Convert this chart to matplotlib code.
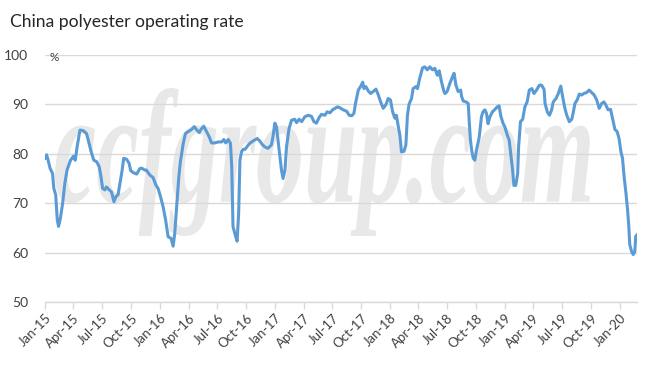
import matplotlib
matplotlib.use("Agg")
import matplotlib.pyplot as plt
import matplotlib.dates as mdates
from matplotlib.textpath import TextPath
from matplotlib.patches import PathPatch
from matplotlib.font_manager import FontProperties
from matplotlib.transforms import Affine2D
import pandas as pd

title = "China polyester operating rate"
unit_label = "%"
watermark = "ccfgroup.com"

dates = [
    "2015-01-01", "2015-01-06", "2015-01-11", "2015-01-17", "2015-01-25", "2015-01-29", "2015-02-04",
    "2015-02-09", "2015-02-13", "2015-02-19", "2015-02-26", "2015-03-05", "2015-03-12", "2015-03-23",
    "2015-04-01", "2015-04-07", "2015-04-13", "2015-04-22", "2015-05-02", "2015-05-13", "2015-05-21",
    "2015-05-29", "2015-06-05", "2015-06-14", "2015-06-22", "2015-06-27", "2015-07-03", "2015-07-10",
    "2015-07-15", "2015-07-24", "2015-07-31", "2015-08-08", "2015-08-14", "2015-08-21", "2015-08-27",
    "2015-09-03", "2015-09-08", "2015-09-17", "2015-09-25", "2015-09-30", "2015-10-08", "2015-10-19",
    "2015-10-29", "2015-11-04", "2015-11-09", "2015-11-14", "2015-11-19", "2015-11-30", "2015-12-10",
    "2015-12-19", "2015-12-26", "2016-01-03", "2016-01-11", "2016-01-19", "2016-01-27", "2016-02-05",
    "2016-02-12", "2016-02-17", "2016-02-23", "2016-03-01", "2016-03-06", "2016-03-15", "2016-03-22",
    "2016-03-31", "2016-04-10", "2016-04-19", "2016-04-26", "2016-05-05", "2016-05-10", "2016-05-19",
    "2016-05-28", "2016-06-05", "2016-06-13", "2016-06-23", "2016-07-04", "2016-07-15", "2016-07-22",
    "2016-07-28", "2016-08-05", "2016-08-12", "2016-08-16", "2016-08-20", "2016-08-27", "2016-09-02",
    "2016-09-07", "2016-09-11", "2016-09-16", "2016-09-21", "2016-09-27", "2016-10-02", "2016-10-10",
    "2016-10-18", "2016-10-28", "2016-11-05", "2016-11-13", "2016-11-22", "2016-11-29", "2016-12-09",
    "2016-12-20", "2016-12-25", "2016-12-31", "2017-01-05", "2017-01-10", "2017-01-16", "2017-01-21",
    "2017-01-26", "2017-02-01", "2017-02-06", "2017-02-14", "2017-02-22", "2017-03-04", "2017-03-10",
    "2017-03-18", "2017-03-26", "2017-04-05", "2017-04-16", "2017-04-26", "2017-05-04", "2017-05-12",
    "2017-05-21", "2017-05-28", "2017-06-08", "2017-06-15", "2017-06-24", "2017-07-02", "2017-07-10",
    "2017-07-18", "2017-07-26", "2017-08-05", "2017-08-16", "2017-08-24", "2017-09-01", "2017-09-08",
    "2017-09-14", "2017-09-22", "2017-09-29", "2017-10-06", "2017-10-10", "2017-10-16", "2017-10-24",
    "2017-10-31", "2017-11-08", "2017-11-17", "2017-11-24", "2017-12-02", "2017-12-10", "2017-12-19",
    "2017-12-26", "2018-01-02", "2018-01-09", "2018-01-16", "2018-01-21", "2018-01-27", "2018-02-01",
    "2018-02-06", "2018-02-14", "2018-02-20", "2018-02-25", "2018-03-02", "2018-03-10", "2018-03-15",
    "2018-03-24", "2018-03-29", "2018-04-05", "2018-04-14", "2018-04-21", "2018-04-29", "2018-05-07",
    "2018-05-16", "2018-05-23", "2018-05-31", "2018-06-06", "2018-06-13", "2018-06-21", "2018-06-24",
    "2018-07-01", "2018-07-10", "2018-07-18", "2018-07-23", "2018-07-29", "2018-08-05", "2018-08-13",
    "2018-08-16", "2018-08-21", "2018-08-30", "2018-09-06", "2018-09-09", "2018-09-13", "2018-09-17",
    "2018-09-22", "2018-09-27", "2018-10-02", "2018-10-11", "2018-10-18", "2018-10-23", "2018-10-29",
    "2018-11-03", "2018-11-08", "2018-11-14", "2018-11-22", "2018-11-30", "2018-12-07", "2018-12-13",
    "2018-12-19", "2018-12-26", "2018-12-31", "2019-01-08", "2019-01-14", "2019-01-19", "2019-01-25",
    "2019-01-29", "2019-02-04", "2019-02-10", "2019-02-13", "2019-02-19", "2019-02-26", "2019-03-05",
    "2019-03-12", "2019-03-19", "2019-03-27", "2019-04-03", "2019-04-11", "2019-04-20", "2019-04-27",
    "2019-05-05", "2019-05-08", "2019-05-15", "2019-05-22", "2019-05-29", "2019-06-03", "2019-06-12",
    "2019-06-19", "2019-06-27", "2019-07-03", "2019-07-10", "2019-07-16", "2019-07-24", "2019-08-01",
    "2019-08-06", "2019-08-11", "2019-08-18", "2019-08-25", "2019-09-01", "2019-09-08", "2019-09-17",
    "2019-09-25", "2019-10-03", "2019-10-11", "2019-10-19", "2019-10-27", "2019-11-04", "2019-11-11",
    "2019-11-17", "2019-11-24", "2019-12-02", "2019-12-08", "2019-12-16", "2019-12-23", "2019-12-29",
    "2020-01-04", "2020-01-09", "2020-01-14", "2020-01-20", "2020-01-25", "2020-01-29", "2020-02-01",
    "2020-02-07", "2020-02-12", "2020-02-17", "2020-02-20", "2020-02-24",
]

rates = [
    79.1, 79.8, 78.7, 77.1, 76.0, 73.0, 71.7,
    66.6, 65.3, 67.0, 70.0, 74.0, 76.7, 78.7,
    79.5, 78.7, 81.4, 84.8, 84.7, 84.1, 82.1,
    80.1, 78.7, 78.4, 77.4, 75.7, 73.0, 72.7,
    73.3, 72.7, 72.3, 70.3, 71.3, 71.7, 74.0,
    76.7, 79.1, 78.9, 78.1, 76.6, 76.2, 75.9,
    77.0, 77.1, 76.9, 76.7, 76.7, 75.7, 75.2,
    73.7, 73.0, 71.3, 69.3, 66.6, 63.2, 62.9,
    61.3, 63.9, 69.3, 75.4, 78.4, 82.1, 84.1,
    84.5, 84.9, 85.5, 84.9, 84.3, 84.9, 85.6,
    84.5, 83.5, 82.2, 82.2, 82.4, 82.4, 82.9,
    82.2, 82.9, 82.1, 77.4, 65.3, 63.6, 62.3,
    68.0, 78.7, 80.4, 80.9, 80.9, 81.3, 82.0,
    82.4, 82.8, 83.1, 82.6, 81.8, 81.4, 81.1,
    81.8, 83.5, 86.2, 85.5, 82.8, 79.4, 76.7,
    75.0, 76.7, 81.4, 85.1, 86.8, 87.0, 86.3,
    87.0, 86.5, 87.5, 87.8, 87.6, 86.5, 86.2,
    87.4, 88.0, 87.8, 88.5, 88.3, 88.9, 89.2,
    89.5, 89.3, 88.9, 88.6, 87.8, 87.7, 88.2,
    90.5, 92.9, 93.6, 94.5, 93.2, 93.6, 92.7,
    92.2, 92.6, 93.1, 92.0, 90.5, 89.2, 90.0,
    91.2, 90.9, 88.5, 87.2, 87.8, 85.5, 83.8,
    80.4, 80.5, 81.8, 87.8, 90.0, 91.2, 93.2,
    93.6, 93.2, 95.3, 97.4, 97.6, 97.0, 97.6,
    97.0, 97.3, 95.9, 96.8, 94.6, 92.6, 92.2,
    92.6, 94.3, 95.6, 96.3, 93.9, 92.6, 92.9,
    91.6, 90.7, 90.5, 90.2, 86.8, 82.8, 80.7,
    79.1, 78.7, 80.7, 83.4, 87.5, 88.5, 88.9,
    88.2, 86.1, 87.5, 88.5, 89.0, 89.5, 89.7,
    87.5, 86.1, 85.5, 83.8, 82.8, 80.1, 76.7,
    73.6, 73.6, 76.0, 81.4, 86.5, 87.0, 89.5,
    90.5, 92.9, 93.2, 92.2, 92.9, 93.9, 93.9,
    93.0, 90.2, 88.5, 87.8, 88.9, 90.5, 91.2,
    92.2, 93.7, 91.5, 89.2, 87.8, 86.5, 87.0,
    88.5, 90.2, 90.9, 92.1, 91.9, 92.2, 92.4,
    92.9, 92.4, 91.9, 90.9, 89.2, 90.2, 90.5,
    89.9, 88.9, 89.0, 87.2, 84.9, 84.5, 83.1,
    80.4, 79.1, 75.4, 72.0, 68.7, 65.3, 61.6,
    60.2, 59.6, 60.2, 63.3, 63.6,
]

y_ticks = [50, 60, 70, 80, 90, 100]

x = pd.to_datetime(dates)

plt.rcParams['font.family'] = ['Lato', 'DejaVu Sans']

fig = plt.figure(figsize=(6.6, 3.73), dpi=100)
ax = fig.add_axes([45 / 660, 1 - 302 / 373, 592 / 660, 247 / 373])
ax.set_facecolor('none')
ax.set_zorder(1)

ax.plot(x, rates, color='#5b9bd5', lw=2.2, zorder=3, solid_joinstyle='round')

ax.set_ylim(50, 100)
ax.set_yticks(y_ticks)
ax.set_xlim(x[0], x[-1])
ax.xaxis.set_major_locator(mdates.MonthLocator(bymonth=[1, 4, 7, 10]))
ax.xaxis.set_major_formatter(mdates.DateFormatter('%b-%y'))
ax.grid(axis='y', color='#d9d9d9', lw=1.0, zorder=1)
ax.set_axisbelow(True)

for s in ['top', 'right', 'left']:
    ax.spines[s].set_visible(False)
ax.spines['bottom'].set_color('#d9d9d9')
ax.spines['bottom'].set_linewidth(1.0)

ax.tick_params(axis='y', length=0, pad=12, labelsize=10, labelcolor='#404040')
ax.tick_params(axis='x', length=5, color='#d9d9d9', width=1.0, pad=2,
               labelsize=9.5, labelcolor='#404040')
for lab in ax.get_xticklabels():
    lab.set_rotation(45)
    lab.set_ha('right')
    lab.set_rotation_mode('anchor')

# unit label
ax.text(4 / 592, 99.5, unit_label, transform=ax.get_yaxis_transform(), fontsize=8.5,
        color='#404040', ha='left', va='center')

# title
fig.text(10 / 660, 1 - 22 / 373, title, fontsize=12.6, color='#262626', ha='left', va='center')

# watermark fitted into a box (figure pixel coordinates), drawn beneath the axes
fp = FontProperties(family='Liberation Serif', style='italic', weight='bold')
tp = TextPath((0, 0), watermark, size=100, prop=fp)
ext = tp.get_extents()
bx0, bx1 = 55, 590
by0, by1 = 373 - 236, 373 - 88
sx = (bx1 - bx0) / ext.width
sy = (by1 - by0) / ext.height
tr = Affine2D().translate(-ext.x0, -ext.y0).scale(sx, sy).translate(bx0, by0)
patch = PathPatch(tr.transform_path(tp), facecolor='#e8e8e8', edgecolor='none',
                  transform=None, zorder=0)
fig.patches.append(patch)

fig.savefig('out.png', dpi=100)
